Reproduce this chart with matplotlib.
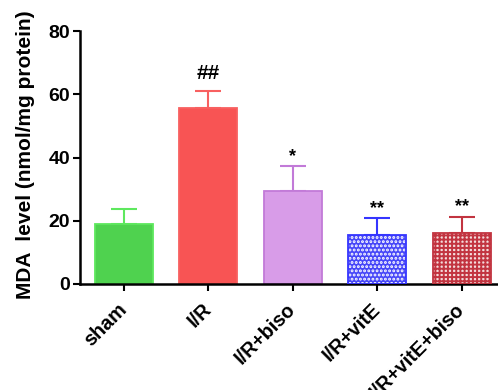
import numpy as np
import matplotlib
matplotlib.use("Agg")
import matplotlib.pyplot as plt

groups = ["sham", "I/R", "I/R+biso", "I/R+vitE", "I/R+vitE+biso"]
mda_mean = [19.0, 55.8, 29.5, 15.5, 16.2]
mda_sd = [4.7, 5.2, 7.8, 5.3, 5.1]
marks = ["", "##", "*", "**", "**"]

face_colors = ["#4fd24f", "#f85454", "#d89ce8", "#4646f8", "#f4dcdc"]
hatch_colors = [None, None, None, "#ffffff", "#c23440"]
edge_colors = ["#5ee85e", "#f86060", "#c27ad8", "#3535ff", "#c23440"]
hatches = [None, None, None, "....", "++++"]

plt.rcParams["font.family"] = ["Liberation Sans", "DejaVu Sans"]
plt.rcParams["font.weight"] = "bold"
plt.rcParams["hatch.linewidth"] = 1.4

fig = plt.figure(figsize=(4.98, 3.90), dpi=100)
ax = fig.add_axes([0.1606, 0.2718, 0.8394, 0.6487])

x = np.arange(len(groups))
width = 0.69

for i in range(len(groups)):
    if hatches[i]:
        ax.bar(x[i], mda_mean[i], width, color=face_colors[i], edgecolor=hatch_colors[i],
               hatch=hatches[i], linewidth=0, zorder=2)
        ax.bar(x[i], mda_mean[i], width, fill=False, edgecolor=edge_colors[i],
               linewidth=1.3, zorder=3)
    else:
        ax.bar(x[i], mda_mean[i], width, color=face_colors[i], edgecolor=edge_colors[i],
               linewidth=1.3, zorder=2)
    # upper error bar only
    ax.errorbar(x[i], mda_mean[i], yerr=[[0], [mda_sd[i]]], fmt="none",
                ecolor=edge_colors[i], elinewidth=1.5, capsize=9.5, capthick=1.5, zorder=1)
    if marks[i]:
        ax.annotate(marks[i], (x[i], mda_mean[i] + mda_sd[i]), xytext=(0, 1 if "#" not in marks[i] else 6),
                    textcoords="offset points", ha="center", va="bottom",
                    fontsize=15 if "#" in marks[i] else 13, fontweight="bold")

ax.set_xlim(-0.52, 4.43)
ax.set_ylim(0, 80)
ax.set_yticks([0, 20, 40, 60, 80])
ax.set_xticks(x)
ax.set_xticklabels(groups, rotation=45, ha="right", va="center", rotation_mode="anchor")
ax.tick_params(axis="both", width=1.5, length=5)
ax.tick_params(axis="x", pad=11, labelsize=14.2)
ax.tick_params(axis="y", pad=2, labelsize=14)
ax.set_ylabel("MDA  level (nmol/mg protein)", fontsize=15, fontweight="bold")
ax.yaxis.set_label_coords(-0.108, 0.512)

for s in ["top", "right"]:
    ax.spines[s].set_visible(False)
for s in ["left", "bottom"]:
    ax.spines[s].set_linewidth(1.8)

fig.savefig("out.png", dpi=100)
